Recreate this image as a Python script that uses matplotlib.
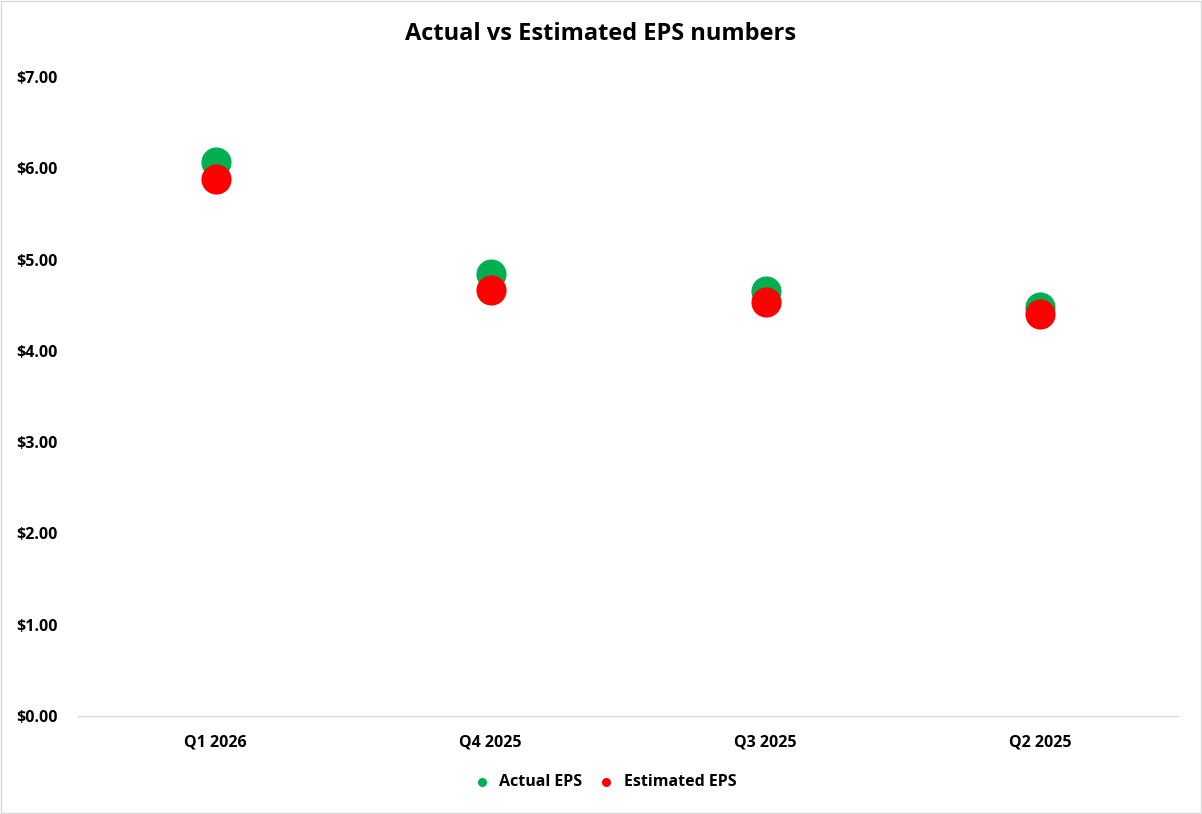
import numpy as np
import matplotlib.pyplot as plt
from matplotlib.patches import Rectangle

plt.rcParams['font.family'] = ['Open Sans', 'DejaVu Sans']
plt.rcParams['font.weight'] = 'bold'

# Data
quarters = ['Q1 2026', 'Q4 2025', 'Q3 2025', 'Q2 2025']
actual_eps = [6.07, 4.84, 4.66, 4.48]
estimated_eps = [5.88, 4.67, 4.53, 4.40]
y_ticks = [0, 1, 2, 3, 4, 5, 6, 7]

fig = plt.figure(figsize=(12.02, 8.14), dpi=100)
ax = fig.add_axes([0.065, 0.1204, 0.915, 0.785])

x = np.arange(len(quarters))
ax.scatter(x, actual_eps, s=470, color='#00B050', label='Actual EPS', zorder=3, linewidths=0)
ax.scatter(x, estimated_eps, s=470, color='#FF0000', label='Estimated EPS', zorder=4, linewidths=0)

ax.set_xlim(-0.5, len(quarters) - 0.5)
ax.set_ylim(0, 7)
ax.set_xticks(x)
ax.set_xticklabels(quarters, fontsize=11.5, fontweight='bold')
ax.set_yticks(y_ticks)
ax.set_yticklabels([f'${v:.2f}' for v in y_ticks], fontsize=11.5, fontweight='bold')
ax.tick_params(axis='x', length=0, pad=13)
ax.tick_params(axis='y', length=0, pad=15)

for side in ['top', 'right', 'left']:
    ax.spines[side].set_visible(False)
ax.spines['bottom'].set_color('#D9D9D9')
ax.spines['bottom'].set_linewidth(1)

fig.text(0.5, 0.958, 'Actual vs Estimated EPS numbers', ha='center', va='center',
         fontsize=17, fontweight='bold')

leg = fig.legend(loc='center', bbox_to_anchor=(0.5, 0.039), ncol=2, frameon=False,
                 fontsize=11.5, markerscale=0.3, handletextpad=0.1, columnspacing=0.5)

# light grey chart border
fig.patches.append(Rectangle((0.001, 0.001), 0.998, 0.998, transform=fig.transFigure,
                             fill=False, edgecolor='#D9D9D9', linewidth=1))

fig.savefig('out.png', dpi=100)
